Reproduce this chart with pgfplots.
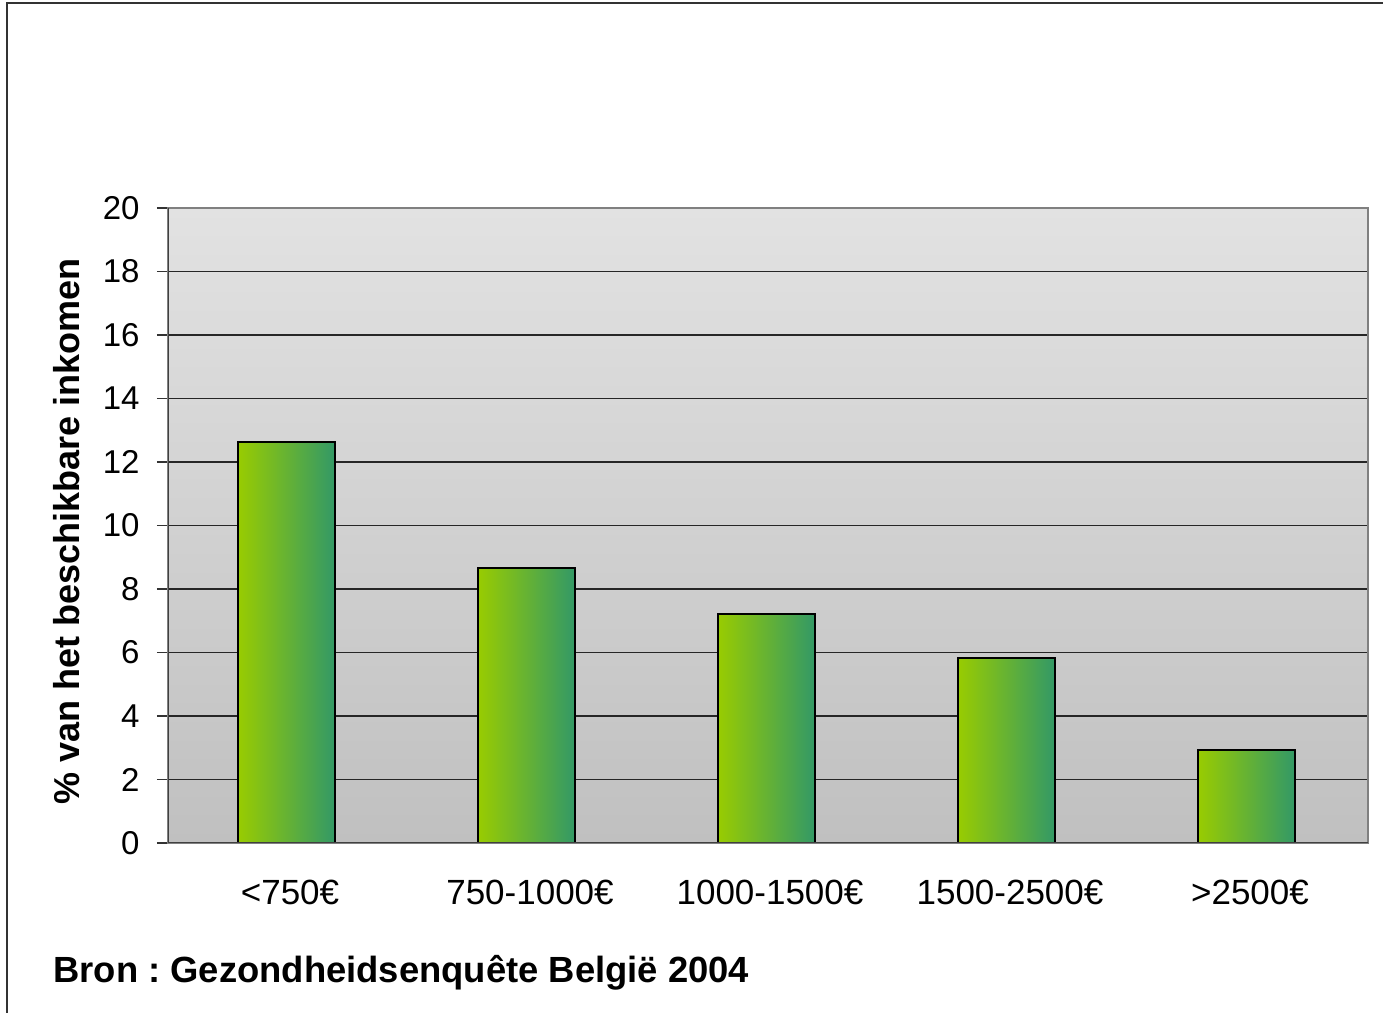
\documentclass[border=0pt]{standalone}
\usepackage{pgfplots}
\pgfplotsset{compat=1.18}
\usepackage{fontspec}
\setmainfont{Liberation Sans}

\definecolor{barlime}{HTML}{99CC00}
\definecolor{barmid}{HTML}{84BE3A}
\definecolor{barsea}{HTML}{339966}
\definecolor{bgtop}{HTML}{E2E2E2}
\definecolor{bgbot}{HTML}{C0C0C0}
\definecolor{frame}{HTML}{808080}

\pgfplotsset{
	gradbar/.style={ybar, bar width=48.5pt, bar shift=-1pt, draw=black,
		line width=1pt, left color=barlime, middle color=barmid,
		right color=barsea},
}

\begin{document}
\frenchspacing
\begin{tikzpicture}
% 1 px of the reference = 0.5pt
\path[use as bounding box] (0,0) rectangle (691.5pt,506.5pt);
\draw[line width=1pt, black!80] (3.5pt,-1pt) -- (3.5pt,505pt) -- (693pt,505pt);

\begin{axis}[
	at={(84pt,85pt)}, anchor=south west,
	scale only axis,
	width=600pt, height=317.5pt,
	xmin=-0.5, xmax=4.5,
	ymin=0, ymax=20,
	ytick={0,2,...,20},
	xtick={0,1,2,3,4},
	xticklabels={<750€, 750-1000€, 1000-1500€, 1500-2500€, >2500€},
	major x tick style={draw=none},
	ytick pos=left,
	tick align=outside,
	major tick length=5.5pt,
	ytick style={black!80, line width=0.6pt},
	ymajorgrids,
	major grid style={black!85, line width=0.6pt},
	axis line style={frame, line width=1.2pt},
	axis background/.style={top color=bgtop, bottom color=bgbot},
	yticklabel style={font=\fontsize{16.5}{19}\selectfont},
	xticklabel style={font=\fontsize{17.5}{20}\selectfont},
	/pgf/number format/assume math mode=true,
	yticklabel style={inner sep=0pt, anchor=east, xshift=-8.5pt},
	xticklabel style={inner sep=0pt, anchor=base, yshift=-25pt, xshift=1pt},
	ylabel={\% van het beschikbare inkomen},
	ylabel style={font=\bfseries\fontsize{18}{20}\selectfont,
		at={(axis description cs:0,0.5)}, anchor=center,
		yshift=50.5pt, xshift=-3pt},
]
\addplot[gradbar] coordinates {(0, 12.63)};
\addplot[gradbar] coordinates {(1, 8.66)};
\addplot[gradbar] coordinates {(2, 7.21)};
\addplot[gradbar] coordinates {(3, 5.83)};
\addplot[gradbar] coordinates {(4, 2.93)};
% darker left and bottom axis lines, as in the original
\draw[black!75, line width=1pt]
	(rel axis cs:0,1) -- (rel axis cs:0,0) -- (rel axis cs:1,0);
\end{axis}

\node[anchor=base west, inner sep=0pt, font=\bfseries\fontsize{18.2}{20}\selectfont]
	at (26.5pt,15pt) {Bron : Gezondheidsenquête België 2004};
\end{tikzpicture}
\end{document}
